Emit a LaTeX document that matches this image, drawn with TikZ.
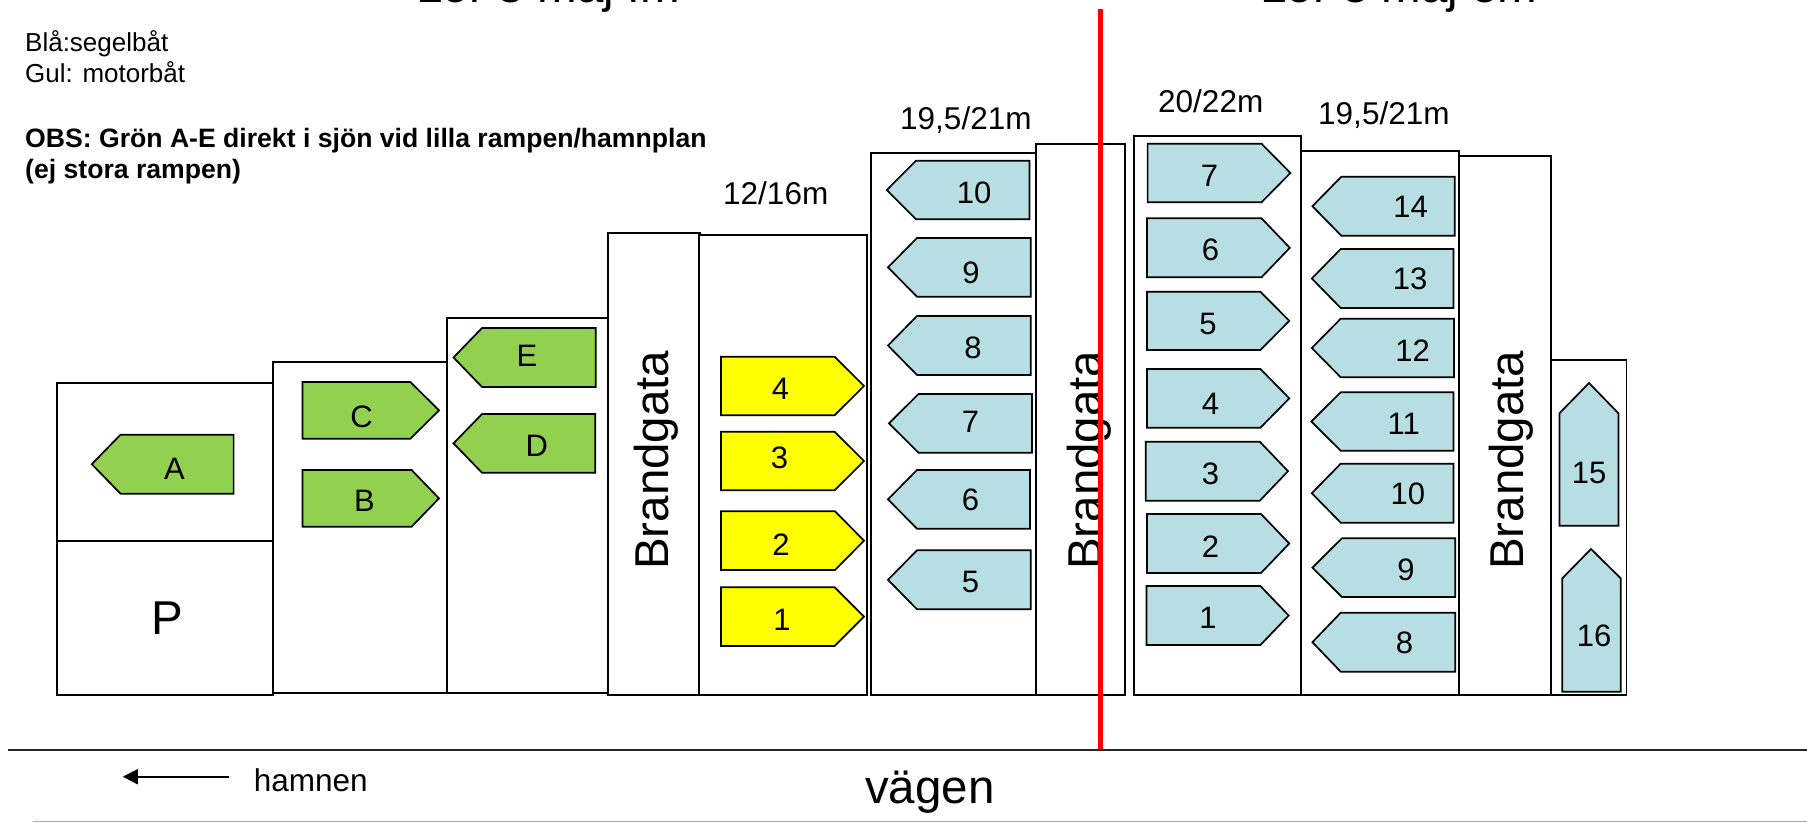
\documentclass[tikz,border=0pt]{standalone}
\usepackage{fontspec}
\setmainfont{Liberation Sans}
\usetikzlibrary{arrows.meta}
\definecolor{boatgreen}{HTML}{92D050}
\definecolor{boatyellow}{HTML}{FFFF00}
\definecolor{boatblue}{HTML}{B7DEE2}
\tikzset{
  plot/.style={draw=black,line width=1.9pt,fill=white},
  boat/.style={draw=black,line width=1.7pt,line join=miter},
  num/.style={inner sep=0pt,yshift=-1.5pt,font=\fontsize{31}{36}\selectfont},
  txt/.style={inner sep=0pt,anchor=base west,font=\fontsize{31.5}{36}\selectfont},
  small/.style={inner sep=0pt,anchor=base west,font=\fontsize{26}{30}\selectfont},
  smallbold/.style={inner sep=0pt,anchor=base west,font=\fontsize{26.6}{30}\selectfont\bfseries},
  big/.style={inner sep=0pt,anchor=base west,font=\fontsize{47.5}{54}\selectfont},
  gata/.style={inner sep=0pt,anchor=base west,rotate=90,font=\fontsize{47.5}{54}\selectfont},
}
% fill, tip x, shoulder x, flat end x, top y, bottom y
\newcommand{\boatside}[6]{\draw[boat,fill=#1] (#2,{(#5+#6)/2}) -- (#3,#5) -- (#4,#5) -- (#4,#6) -- (#3,#6) -- cycle;}
% fill, left x, right x, tip x, tip y, shoulder y, bottom y
\newcommand{\boatup}[7]{\draw[boat,fill=#1] (#4,#5) -- (#3,#6) -- (#3,#7) -- (#2,#7) -- (#2,#6) -- cycle;}
\begin{document}
\begin{tikzpicture}[x=1pt,y=-1pt]
\useasboundingbox (0,0) rectangle (1807,822);

% plots
\draw[plot] (57.4,383) rectangle (272.7,695);
\draw[plot] (57.4,541) -- (272.7,541);
\draw[plot] (272.7,362) rectangle (446.6,693);
\draw[plot] (446.6,318) rectangle (608,693);
\draw[plot] (608,232.7) rectangle (699.7,695);
\draw[plot] (698.6,235) rectangle (867.3,695);
\draw[plot] (871.3,153) rectangle (1036,695);
\draw[plot] (1036,144) rectangle (1125,695);
\draw[plot] (1133.7,135.7) rectangle (1300.8,695);
\draw[plot] (1300.8,150.7) rectangle (1459,695);
\draw[plot] (1459,155.7) rectangle (1550.7,695);
\draw[plot] (1550.7,360) rectangle (1626.5,695);

% green boats
\boatside{boatgreen}{91.8}{120.5}{233.6}{434.7}{493.7}
\boatside{boatgreen}{439}{410.4}{302.5}{382}{438.7}
\boatside{boatgreen}{439}{411.6}{302.5}{470}{526.7}
\boatside{boatgreen}{453.5}{482}{595.8}{328}{387}
\boatside{boatgreen}{453.5}{482}{595.3}{414}{472.7}
\node[num] (gA) at (174.5,467.7) {A};
\node[num] (gC) at (361.6,415) {C};
\node[num] (gB) at (364.5,499) {B};
\node[num] (gE) at (527,354) {E};
\node[num] (gD) at (536.7,444) {D};

% yellow boats
\boatside{boatyellow}{864}{834.6}{721}{356.7}{415.3}
\boatside{boatyellow}{864}{834.6}{721}{431.7}{490.3}
\boatside{boatyellow}{864}{835}{721}{511.3}{570}
\boatside{boatyellow}{864}{834.6}{721}{587.3}{646}
\node[num] (y4) at (780.6,387) {4};
\node[num] (y3) at (779.5,456.7) {3};
\node[num] (y2) at (781,543) {2};
\node[num] (y1) at (782,618.7) {1};

% blue boats, left column
\boatside{boatblue}{886.8}{916}{1029.5}{160.7}{219.3}
\boatside{boatblue}{888}{917}{1030.7}{238}{296.7}
\boatside{boatblue}{888}{917}{1030.7}{316}{375}
\boatside{boatblue}{889}{918.5}{1032}{394}{452.7}
\boatside{boatblue}{888}{917}{1030}{470}{528.7}
\boatside{boatblue}{888}{917}{1030.7}{550.3}{609.3}
\node[num] (l10) at (974,191) {10};
\node[num] (l9) at (971,271) {9};
\node[num] (l8) at (973,346.7) {8};
\node[num] (l7) at (970.6,420.7) {7};
\node[num] (l6) at (970.6,498.7) {6};
\node[num] (l5) at (970.6,580) {5};

% blue boats, middle column
\boatside{boatblue}{1290.4}{1261.5}{1147.6}{143.7}{202.3}
\boatside{boatblue}{1289.8}{1261.5}{1147}{218.3}{277.3}
\boatside{boatblue}{1289.3}{1260.4}{1147}{291.7}{350}
\boatside{boatblue}{1289.3}{1260.4}{1147}{369}{427.7}
\boatside{boatblue}{1288}{1259.8}{1145.8}{441.7}{500.7}
\boatside{boatblue}{1289.3}{1261}{1147}{514}{573}
\boatside{boatblue}{1288.7}{1260.4}{1146.4}{586}{645}
\node[num] (m7) at (1209.4,174) {7};
\node[num] (m6) at (1210.6,248) {6};
\node[num] (m5) at (1208,322.3) {5};
\node[num] (m4) at (1210.6,402.3) {4};
\node[num] (m3) at (1210.6,472.7) {3};
\node[num] (m2) at (1210.6,545) {2};
\node[num] (m1) at (1208,616) {1};

% blue boats, right column
\boatside{boatblue}{1312.4}{1341.3}{1454.7}{176.7}{235.7}
\boatside{boatblue}{1311.8}{1340.7}{1453.5}{249}{308}
\boatside{boatblue}{1311.8}{1340.7}{1454}{318.7}{377.3}
\boatside{boatblue}{1311.3}{1340.7}{1453.5}{392.3}{450.7}
\boatside{boatblue}{1311.8}{1340.7}{1453.5}{463.7}{522.7}
\boatside{boatblue}{1312.4}{1341.9}{1455.3}{538.3}{597}
\boatside{boatblue}{1312.4}{1340.7}{1455.3}{612.7}{671.7}
\node[num] (r14) at (1410.7,205) {14};
\node[num] (r13) at (1410,277) {13};
\node[num] (r12) at (1412.5,349) {12};
\node[num] (r11) at (1403.8,422.7) {11};
\node[num] (r10) at (1407.8,492.7) {10};
\node[num] (r9) at (1406,568) {9};
\node[num] (r8) at (1404.4,641) {8};

% upright boats
\boatup{boatblue}{1559.4}{1618.4}{1589}{383}{413.3}{525.7}
\boatup{boatblue}{1562.3}{1620.7}{1591}{549}{578.3}{691.7}
\node[num] (u15) at (1589,471) {15};
\node[num] (u16) at (1594,634.3) {16};

% fire lanes
\node[gata] (g1) at (668.5,570) {Brandgata};
\node[gata] (g2) at (1101,570) {Brandgata};
\node[gata] (g3) at (1523,570) {Brandgata};

% dimensions
\node[txt] (d1) at (723,204) {12/16m};
\node[txt] (d2) at (900,129.5) {19,5/21m};
\node[txt] (d3) at (1158,112) {20/22m};
\node[txt] (d4) at (1318,124.5) {19,5/21m};

% legend
\node[small] (k1) at (25,51.7) {Blå:segelbåt};
\node[small] (k2) at (25,82.7) {Gul: motorbåt};
\node[smallbold] (k3) at (25,147) {OBS: Grön A-E direkt i sjön vid lilla rampen/hamnplan};
\node[smallbold] (k4) at (25,178) {(ej stora rampen)};

% headings, cut by the top edge
\node[big] (h1) at (416,2.8) {Lör 3 maj fm};
\node[big] (h2) at (1260,2.8) {Lör 3 maj em};

% parking
\node[big] (park) at (151,634) {P};

% road
\coordinate (roadW) at (8,750.3);
\coordinate (roadE) at (1807,750.3);
\draw[line width=1.9pt,draw=black!85] (roadW) -- (roadE);
\coordinate (edgeW) at (32.7,821.3);
\coordinate (edgeE) at (1807,821.3);
\draw[line width=1.5pt,draw=black!35] (edgeW) -- (edgeE);
\node[big] (road) at (865,803.5) {vägen};

% harbour arrow
\coordinate (harbE) at (229,776.7);
\coordinate (harbW) at (122.8,776.7);
\draw[line width=1.9pt,-{Triangle[length=15pt,width=15pt]}] (harbE) -- (harbW);
\node[txt] (harb) at (253.7,791.5) {hamnen};

% divider
\coordinate (divN) at (1100.7,9);
\coordinate (divS) at (1100.7,749);
\draw[line width=5.5pt,draw=red] (divN) -- (divS);
\end{tikzpicture}
\end{document}
